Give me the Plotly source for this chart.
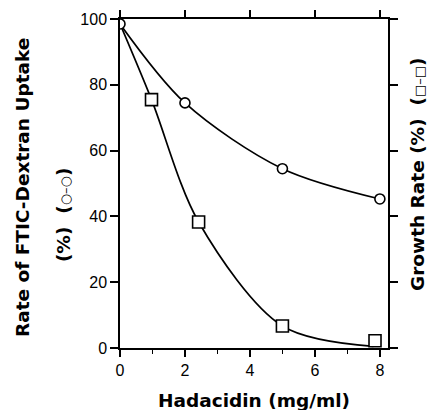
import plotly.graph_objects as go

# Data
uptake_x = [0, 2, 5, 8]
uptake_y = [98.5, 74.5, 54.5, 45.3]
growth_x = [0, 0.97, 2.42, 5.0, 7.85]
growth_y = [98.5, 75.5, 38.3, 6.7, 2.2]
growth_line_x = [0, 0.97, 2.42, 5.0, 7.8]
growth_line_y = [98.5, 75.5, 38.3, 6.7, 0.5]

x_ticks = [0, 2, 4, 6, 8]
y_ticks = [0, 20, 40, 60, 80, 100]

TICKFONT = "Liberation Sans"
TITLEFONT = "DejaVu Sans"
fig = go.Figure()

fig.add_trace(go.Scatter(x=growth_line_x, y=growth_line_y, mode="lines",
                         line=dict(color="black", width=1.7, shape="spline", smoothing=0.9),
                         showlegend=False, hoverinfo="skip"))
fig.add_trace(go.Scatter(x=growth_x[1:], y=growth_y[1:], mode="markers",
                         marker=dict(symbol="square", size=12, color="white",
                                     line=dict(color="black", width=1.6)),
                         showlegend=False))
fig.add_trace(go.Scatter(x=uptake_x, y=uptake_y, mode="lines+markers",
                         line=dict(color="black", width=1.7, shape="spline", smoothing=0.9),
                         marker=dict(symbol="circle", size=10, color="white",
                                     line=dict(color="black", width=1.6)),
                         showlegend=False))

# dummy trace for secondary axes
fig.add_trace(go.Scatter(x=[0], y=[0], xaxis="x2", yaxis="y2", mode="markers",
                         marker=dict(opacity=0), showlegend=False, hoverinfo="skip"))

axis_common = dict(showgrid=False, zeroline=False, showline=True, linecolor="black",
                   linewidth=1.5, ticks="outside", tickcolor="black", tickwidth=1.5,
                   tickfont=dict(family=TICKFONT, size=16, color="black"))

title_font = dict(family=TITLEFONT, size=18.5, color="black")
SYM = "<span style='font-size:13px;font-weight:normal'>{0}–{0}</span>"

fig.update_layout(
    width=430, height=410,
    margin=dict(l=120, r=42, t=19, b=62),
    paper_bgcolor="white", plot_bgcolor="white",
    xaxis=dict(range=[0, 8.25], tickvals=x_ticks, ticklen=7,
               minor=dict(dtick=1, ticks="outside", ticklen=4, tickcolor="black", tickwidth=1.2),
               **axis_common),
    yaxis=dict(range=[0, 100], tickvals=y_ticks, ticklen=8, **axis_common),
    xaxis2=dict(range=[0, 8.25], tickvals=x_ticks, ticklen=7, overlaying="x", side="top",
                showticklabels=False, **axis_common),
    yaxis2=dict(range=[0, 100], tickvals=y_ticks, ticklen=8, overlaying="y", side="right",
                showticklabels=False, **axis_common),
    annotations=[
        dict(text="<b>Hadacidin (mg/ml)</b>", xref="paper", yref="paper",
             x=0.5, y=-0.161, xanchor="center", yanchor="middle",
             showarrow=False, font=title_font),
        dict(text="<b>Rate of FTIC-Dextran Uptake</b>", textangle=-90,
             xref="paper", yref="paper", x=-0.366, y=0.489,
             xanchor="center", yanchor="middle", showarrow=False, font=title_font),
        dict(text="<b>(%)  (" + SYM.format("○") + ")</b>", textangle=-90,
             xref="paper", yref="paper", x=-0.2127, y=0.404,
             xanchor="center", yanchor="middle", showarrow=False, font=title_font),
        dict(text="<b>Growth Rate (%)  (" + SYM.format("□") + ")</b>", textangle=-90,
             xref="paper", yref="paper", x=1.112, y=0.526,
             xanchor="center", yanchor="middle", showarrow=False, font=title_font),
    ],
)

fig.write_html("out.html", config={"displayModeBar": False},
               post_script="document.body.style.margin='0px';")
